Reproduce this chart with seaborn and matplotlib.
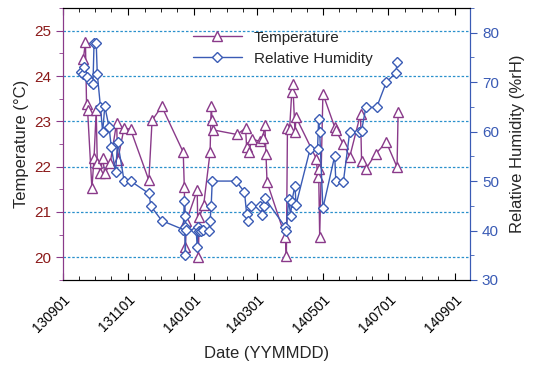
import pandas as pd
import seaborn as sns
import matplotlib.pyplot as plt
import matplotlib.dates as mdates
from matplotlib.ticker import MultipleLocator

# Temperature readings (date as YYMMDD, deg C)
temp_dates = ['130920', '130922', '130923', '130924', '130928', '130930', '131002', '131003',
              '131006', '131008', '131010', '131015', '131021', '131022', '131028', '131103',
              '131120', '131123', '131202', '131222', '131223', '131224', '131225', '140104',
              '140105', '140106', '140110', '140116', '140117', '140118', '140119', '140210',
              '140218', '140219', '140221', '140224', '140303', '140306', '140308', '140309',
              '140310', '140327', '140328', '140329', '140331', '140402', '140403', '140405',
              '140406', '140425', '140426', '140427', '140428', '140501', '140512', '140513',
              '140520', '140526', '140605', '140606', '140610', '140619', '140629', '140709',
              '140710']
temps = [24.38, 24.74, 23.39, 23.24, 21.52, 22.2, 23.24, 22.09,
         21.87, 22.2, 21.85, 22.07, 22.97, 22.14, 22.86, 22.82,
         21.7, 23.02, 23.33, 22.32, 21.55, 20.23, 20.8, 21.48,
         20.0, 20.89, 21.15, 22.32, 23.33, 23.02, 22.81, 22.71,
         22.85, 22.44, 22.33, 22.61, 22.56, 22.64, 22.92, 22.28,
         21.66, 20.45, 20.03, 22.85, 22.83, 23.64, 23.83, 22.76,
         23.09, 22.17, 21.77, 21.95, 20.45, 23.61, 22.87, 22.8,
         22.5, 22.22, 23.16, 22.12, 21.95, 22.28, 22.54, 21.99,
         23.2]

# Relative humidity readings (date as YYMMDD, %rH)
hum_dates = ['130918', '130920', '130921', '130923', '130927', '130929', '130930', '131002',
             '131003', '131006', '131008', '131010', '131014', '131016', '131020', '131022',
             '131028', '131103', '131120', '131122', '131202', '131222', '131223', '131224',
             '131224', '131224', '131225', '140103', '140104', '140105', '140106', '140108',
             '140109', '140115', '140116', '140117', '140118', '140209', '140217', '140219',
             '140220', '140223', '140303', '140305', '140307', '140308', '140327', '140328',
             '140330', '140401', '140402', '140405', '140406', '140419', '140426', '140427',
             '140428', '140501', '140512', '140513', '140520', '140526', '140604', '140606',
             '140610', '140620', '140629', '140708', '140709']
hums = [72.0, 71.7, 73.0, 71.0, 70.0, 69.7, 78.0, 78.0,
        71.7, 64.9, 59.9, 65.1, 60.9, 56.9, 51.8, 57.9,
        50.0, 50.0, 47.5, 44.9, 42.0, 40.2, 46.0, 42.9,
        35.0, 40.7, 40.2, 40.2, 36.7, 40.7, 39.9, 39.9,
        40.1, 39.9, 42.0, 44.9, 50.0, 50.0, 47.8, 43.4,
        42.0, 44.9, 44.9, 43.2, 44.9, 46.5, 40.7, 39.9,
        46.3, 42.9, 45.8, 49.1, 45.2, 56.4, 56.5, 62.5,
        59.9, 44.5, 55.1, 50.0, 49.8, 60.0, 59.9, 60.2,
        64.9, 64.9, 70.0, 71.9, 74.0]

x_ticks = ['130901', '131101', '140101', '140301', '140501', '140701', '140901']

df_t = pd.DataFrame({'date': pd.to_datetime(temp_dates, format='%y%m%d'), 'temp': temps})
df_h = pd.DataFrame({'date': pd.to_datetime(hum_dates, format='%y%m%d'), 'hum': hums})

sns.set_style('ticks')
plt.rcParams['font.family'] = ['Liberation Sans', 'DejaVu Sans']

purple = '#8A3A8A'
dark_red = '#8B1A1A'
blue = '#3A5BB5'

fig = plt.figure(figsize=(5.33, 3.65), dpi=100)
ax = fig.add_axes([0.118, 0.233, 0.764, 0.745])
ax2 = ax.twinx()

sns.lineplot(data=df_t, x='date', y='temp', ax=ax, estimator=None, sort=False,
             color=purple, linewidth=1.0, marker='^', markersize=6.5,
             markerfacecolor='white', markeredgecolor=purple, markeredgewidth=1.0,
             label='Temperature', legend=False)
sns.lineplot(data=df_h, x='date', y='hum', ax=ax2, estimator=None, sort=False,
             color=blue, linewidth=1.0, marker='D', markersize=5,
             markerfacecolor='white', markeredgecolor=blue, markeredgewidth=1.0,
             label='Relative Humidity', legend=False)

ax.set_ylim(19.5, 25.5)
ax2.set_ylim(30, 85)
ax.set_xlim(pd.Timestamp('2013-09-01'), pd.Timestamp('2014-09-15'))

ax.yaxis.set_major_locator(MultipleLocator(1))
ax.yaxis.set_minor_locator(MultipleLocator(0.5))
ax2.yaxis.set_major_locator(MultipleLocator(10))
ax2.yaxis.set_minor_locator(MultipleLocator(5))

ax.set_xticks(pd.to_datetime(x_ticks, format='%y%m%d'))
ax.xaxis.set_major_formatter(mdates.DateFormatter('%y%m%d'))
ax.xaxis.set_minor_locator(mdates.DayLocator(bymonthday=[1, 16]))
for lbl in ax.get_xticklabels():
    lbl.set_rotation(45)
    lbl.set_ha('right')
    lbl.set_rotation_mode('anchor')

ax.grid(axis='y', which='major', linestyle=(0, (2, 1.5)), color='#2A90CC', linewidth=0.9)

# tick styling
ax.tick_params(axis='x', which='both', direction='in', top=True, labelsize=10, colors='black', pad=9)
ax.tick_params(axis='x', which='major', length=5)
ax.tick_params(axis='x', which='minor', length=3)
ax.tick_params(axis='y', which='both', direction='out', colors=purple, labelcolor=dark_red, labelsize=11)
ax.tick_params(axis='y', which='major', length=5)
ax.tick_params(axis='y', which='minor', length=3)
ax2.tick_params(axis='y', which='both', direction='out', colors=blue, labelcolor=blue, labelsize=11)
ax2.tick_params(axis='y', which='major', length=5)
ax2.tick_params(axis='y', which='minor', length=3)

for a in (ax, ax2):
    a.spines['top'].set_visible(True)
    a.spines['right'].set_visible(True)
    a.spines['top'].set_color('black')
    a.spines['bottom'].set_color('black')
    a.spines['left'].set_color(purple)
    a.spines['right'].set_color(blue)

ax.set_xlabel('Date (YYMMDD)', fontsize=12, labelpad=8)
ax.set_ylabel('Temperature (°C)', fontsize=12)
ax2.set_ylabel('Relative Humidity (%rH)', fontsize=12, labelpad=8)

handles = ax.get_lines()[:1] + ax2.get_lines()[:1]
ax2.legend(handles, ['Temperature', 'Relative Humidity'], loc='upper center',
           bbox_to_anchor=(0.54, 0.95), frameon=False, fontsize=11,
           handlelength=3.2, borderaxespad=0.2, labelspacing=0.45)

fig.savefig('out.png', dpi=100)
